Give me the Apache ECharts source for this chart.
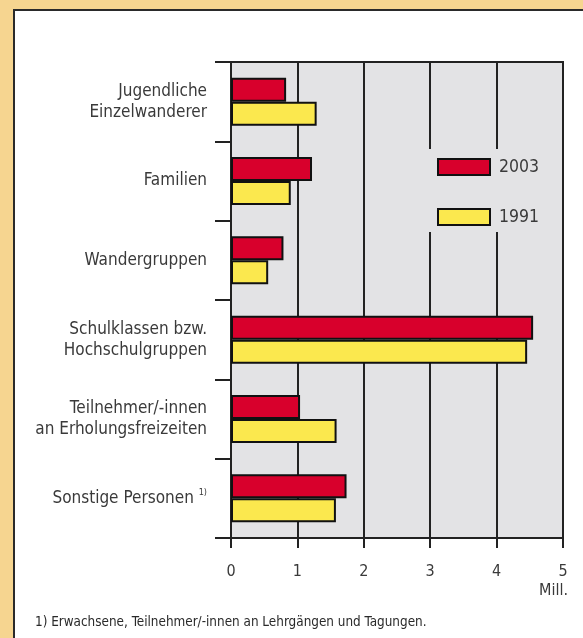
<!DOCTYPE html>
<html>
<head>
<meta charset="utf-8">
<script src="https://cdn.jsdelivr.net/npm/echarts@6/dist/echarts.min.js"></script>
<style>
    html, body { margin: 0; padding: 0; }
    body { width: 583px; height: 638px; background: #f6d590; position: relative; overflow: hidden; }
    .frame { position: absolute; left: 13px; top: 9px; width: 580px; height: 640px; background: #fff; border: 2px solid #2a2a2a; box-sizing: border-box; }
    #main { position: absolute; left: 0; top: 0; width: 583px; height: 638px; }
</style>
</head>
<body>
<div class="frame"></div>
<div id="main"></div>
<script>
// Kategorien (von oben nach unten)
var categories = [
    'Jugendliche\nEinzelwanderer',
    'Familien',
    'Wandergruppen',
    'Schulklassen bzw.\nHochschulgruppen',
    'Teilnehmer/-innen\nan Erholungsfreizeiten',
    'Sonstige Personen'
];
// Werte in Mill.
var values2003 = [0.83, 1.22, 0.79, 4.55, 1.04, 1.74];
var values1991 = [1.29, 0.90, 0.56, 4.46, 1.59, 1.58];
var xTicks = [0, 1, 2, 3, 4, 5];
var footnoteCat = 'Sonstige Personen';
var footnote = '1) Erwachsene, Teilnehmer/-innen an Lehrgängen und Tagungen.';

var font = '"DejaVu Sans Condensed", "DejaVu Sans"';
var myChart = echarts.init(document.getElementById('main'), null, { renderer: 'canvas' });

var option = {
    backgroundColor: 'transparent',
    animation: false,
    textStyle: { fontFamily: font },
    grid: {
        left: 231, top: 62, width: 332, height: 476,
        show: true,
        backgroundColor: '#e3e3e5',
        borderColor: '#222',
        borderWidth: 2
    },
    legend: {
        orient: 'vertical',
        left: 427, top: 149,
        padding: [9, 12, 6, 10],
        backgroundColor: '#e3e3e5',
        itemWidth: 52, itemHeight: 16,
        itemGap: 32,
        icon: 'rect',
        textStyle: { fontFamily: font, fontSize: 17.5, color: '#3a3a3a', padding: [0, 0, 0, 4] },
        data: ['2003', '1991']
    },
    xAxis: {
        type: 'value',
        min: 0, max: 5, interval: 1,
        axisLine: { show: true, lineStyle: { color: '#222', width: 2 } },
        axisTick: { show: true, length: 10, lineStyle: { color: '#222', width: 2 } },
        axisLabel: {
            margin: 26, fontSize: 16, color: '#3a3a3a', fontFamily: font,
            formatter: function (v) { return xTicks.indexOf(v) >= 0 ? String(v) : ''; }
        },
        splitLine: { show: true, lineStyle: { color: '#222', width: 2 } }
    },
    yAxis: {
        type: 'category',
        inverse: true,
        data: categories,
        axisLine: { show: true, lineStyle: { color: '#222', width: 2 } },
        axisTick: { show: true, length: 16, lineStyle: { color: '#222', width: 2 } },
        axisLabel: {
            margin: 24, fontSize: 17, lineHeight: 21, color: '#3a3a3a', fontFamily: font,
            formatter: function (v) {
                return v === footnoteCat ? v + ' {sup|1)}' : v;
            },
            rich: {
                sup: { fontSize: 9, verticalAlign: 'top', padding: [0, 0, 9, 0], color: '#3a3a3a' }
            }
        }
    },
    graphic: [{
        type: 'text',
        right: 15, top: 583,
        style: { text: 'Mill.', fontFamily: font, fontSize: 16, fill: '#3a3a3a' }
    }, {
        type: 'text',
        left: 35, top: 616,
        style: { text: footnote, fontFamily: font, fontSize: 13.4, fill: '#2a2a2a' }
    }],
    series: [{
        name: '2003',
        type: 'bar',
        data: values2003,
        barWidth: 24,
        barGap: '0%',
        itemStyle: { color: '#d8002c', borderColor: '#111', borderWidth: 2 }
    }, {
        name: '1991',
        type: 'bar',
        data: values1991,
        barWidth: 24,
        barGap: '0%',
        itemStyle: { color: '#fbe84e', borderColor: '#111', borderWidth: 2 }
    }]
};
myChart.setOption(option);
</script>
</body>
</html>
